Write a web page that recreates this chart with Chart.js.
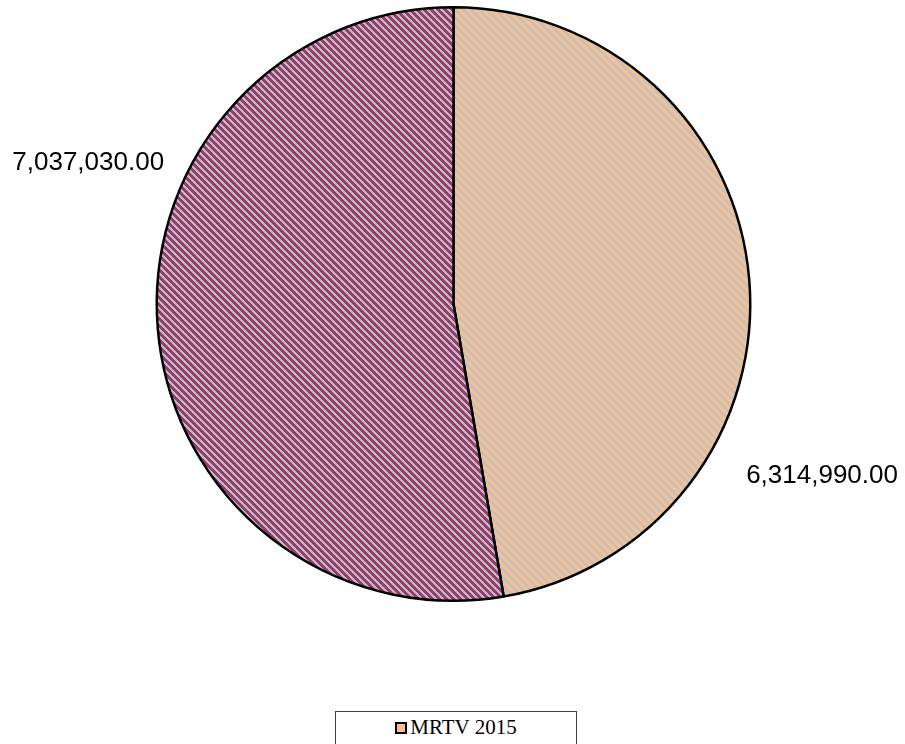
<!DOCTYPE html>
<html>
<head>
<meta charset="utf-8">
<script src="https://cdn.jsdelivr.net/npm/chart.js@4"></script>
<style>
  html, body { margin: 0; padding: 0; background: #fff; }
  #wrap { position: relative; width: 905px; height: 744px; }
  #legend {
    position: absolute; left: 335px; top: 711px; width: 242px; height: 40px;
    border: 1px solid #404040; box-sizing: border-box; background: #fff;
    font-family: "Liberation Serif", serif; font-size: 21px; color: #000;
    text-align: center; line-height: 31px;
  }
  #legend span.box {
    display: inline-block; width: 8px; height: 8px; border: 2px solid #000;
    background: #F8C08E; margin-right: 3px; vertical-align: 0px;
  }
</style>
</head>
<body>
<div id="wrap">
  <canvas id="pieChart" width="905" height="744"></canvas>
  <div id="legend"><span class="box"></span>MRTV 2015</div>
</div>
<script>
// данные
const sliceLabels = ['MRTV 2015 (a)', 'MRTV 2015 (b)'];
const sliceValues = [6314990, 7037030];
const seriesName = 'MRTV 2015';

// полосатая заливка, как в Excel (пиксельные диагонали "\")
function stripes(color, bg, p, fill) {
    const c = document.createElement('canvas');
    c.width = p; c.height = p;
    const g = c.getContext('2d');
    g.fillStyle = bg;
    g.fillRect(0, 0, p, p);
    g.fillStyle = color;
    for (let y = 0; y < p; y++) {
        for (let x = 0; x < p; x++) {
            if (((x - y) % p + p) % p < fill) g.fillRect(x, y, 1, 1);
        }
    }
    return g.createPattern(c, 'repeat');
}

const ctx = document.getElementById('pieChart').getContext('2d');
const fills = [
    stripes('#FAC08A', '#C4C0C4', 8, 4),
    stripes('#983C6C', '#C0BAC6', 7, 4)
];

// подписи значений снаружи круга
const labelOffsets = [[1.242, 0.578], [-1.231, -0.476]];
const valueLabels = {
    id: 'valueLabels',
    afterDraw(chart) {
        const c = chart.ctx;
        const meta = chart.getDatasetMeta(0);
        c.save();
        c.font = '26px "Liberation Sans", Arial, sans-serif';
        c.fillStyle = '#000';
        c.textAlign = 'center';
        c.textBaseline = 'middle';
        meta.data.forEach((arc, i) => {
            const p = arc.getProps(['x', 'y', 'outerRadius'], true);
            const v = chart.data.datasets[0].data[i];
            const txt = v.toLocaleString('en-US', { minimumFractionDigits: 2, maximumFractionDigits: 2 });
            c.fillText(txt, p.x + labelOffsets[i][0] * p.outerRadius, p.y + labelOffsets[i][1] * p.outerRadius);
        });
        c.restore();
    }
};

new Chart(ctx, {
    type: 'pie',
    data: {
        labels: sliceLabels,
        datasets: [{
            label: seriesName,
            data: sliceValues,
            backgroundColor: fills,
            borderColor: '#000',
            borderWidth: 2.5
        }]
    },
    options: {
        responsive: false,
        animation: false,
        layout: { padding: { left: 155, right: 153, top: 6, bottom: 142 } },
        plugins: {
            legend: { display: false },
            tooltip: { enabled: false }
        }
    },
    plugins: [valueLabels]
});
</script>
</body>
</html>
